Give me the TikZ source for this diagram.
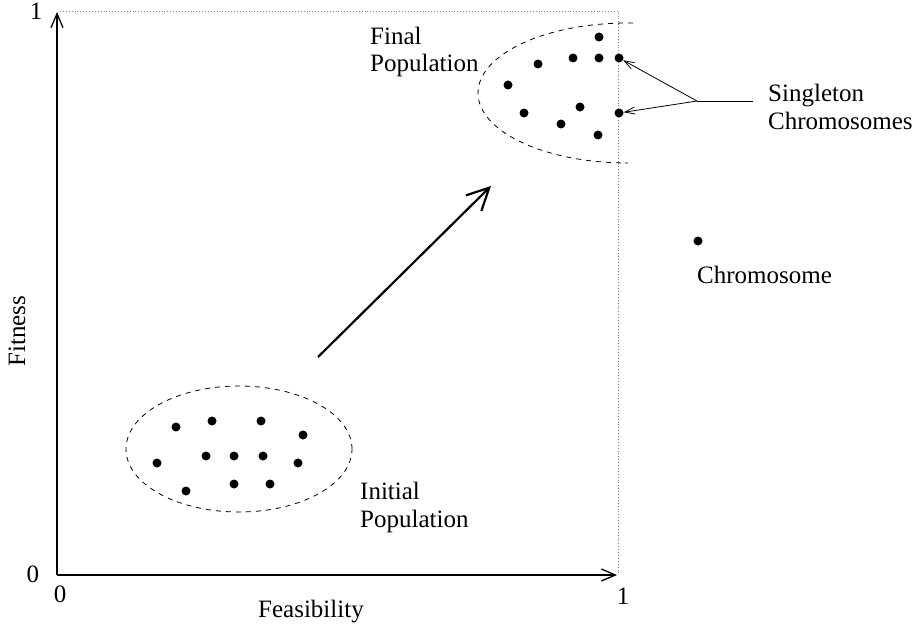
\documentclass[tikz,border=0pt]{standalone}
\usepackage{fontspec}
\setmainfont{Liberation Serif}
\usetikzlibrary{arrows.meta,shapes.geometric}
\begin{document}
\begin{tikzpicture}[x=1pt,y=-1pt,
  lbl/.style={font=\fontsize{25}{27.5}\selectfont,inner sep=0pt,anchor=base west,align=left},
  dotm/.style={circle,fill=black,inner sep=0pt,minimum size=9pt},
  axisline/.style={line width=1.3pt,-{Straight Barb[length=14pt,width=12pt,line width=1.3pt]}},
  guide/.style={dotted,line width=0.9pt,gray},
  popborder/.style={dash pattern=on 5pt off 5pt,line width=0.8pt},
  pointer/.style={line width=0.8pt,-{Straight Barb[length=10pt,width=7pt,line width=0.8pt]}}]
\useasboundingbox (0,0) rectangle (916,626);
% corners
\coordinate (O) at (57,575);
\coordinate (Ytop) at (57,12);
\coordinate (Xend) at (617,575);
\coordinate (TR) at (618,11);
\coordinate (TL) at (60,11);
\coordinate (BR) at (618,575);
% guide lines
\draw[guide] (TL) -- (TR) -- (BR);
% axes
\draw[axisline] (O) -- (Ytop);
\draw[axisline] (O) -- (Xend);
% axis labels
\node[lbl,anchor=base] (y1) at (36,20) {1};
\node[lbl,anchor=base] (y0) at (33,582) {0};
\node[lbl,anchor=base] (x0) at (60,602) {0};
\node[lbl,anchor=base] (x1) at (623,604) {1};
\node[lbl,anchor=base] (xl) at (311,617) {Feasibility};
\node[lbl,anchor=center,rotate=90] (yl) at (17,331) {Fitness};
% initial population
\node[draw,ellipse,popborder,minimum width=226pt,minimum height=126pt,inner sep=0pt] (initpop) at (239,449) {};
\foreach \i/\p in {1/{(176,427)},2/{(212,421)},3/{(261,421)},4/{(303,435)},5/{(157,463)},6/{(206,456)},7/{(234,456)},8/{(263,456)},9/{(298,463)},10/{(186,491)},11/{(234,484)},12/{(270,484)}}
  \node[dotm] (i\i) at \p {};
\node[lbl] (initlbl) at (360,527) {Initial\\Population};
% final population
\coordinate (fpa) at (633,23);
\coordinate (fpb) at (625,163);
\draw[popborder] (fpa) -- (628,23) arc[start angle=90,end angle=270,x radius=150pt,y radius=70pt] -- (fpb);
\foreach \i/\p in {1/{(599,37)},2/{(538,64)},3/{(573,58)},4/{(599,58)},5/{(619,58)},6/{(508,85)},7/{(524,113)},8/{(580,107)},9/{(561,124)},10/{(598,135)},11/{(619,113)}}
  \node[dotm] (f\i) at \p {};
\node[lbl] (finallbl) at (370,72) {Final\\Population};
% main arrow
\coordinate (ma) at (318,357);
\coordinate (mb) at (491,186);
\draw[line width=2.2pt,-{Straight Barb[length=22pt,width=22pt,line width=2.2pt]}] (ma) -- (mb);
% singleton pointers
\coordinate (junc) at (697,101);
\coordinate (hend) at (753,101);
\draw[line width=0.8pt] (hend) -- (junc);
\draw[pointer] (junc) -- (f5);
\draw[pointer] (junc) -- (f11);
\node[lbl] (singlbl) at (768,129) {Singleton\\Chromosomes};
% legend
\node[dotm] (legdot) at (698,241) {};
\node[lbl] (leglbl) at (697,283) {Chromosome};
\end{tikzpicture}
\end{document}
